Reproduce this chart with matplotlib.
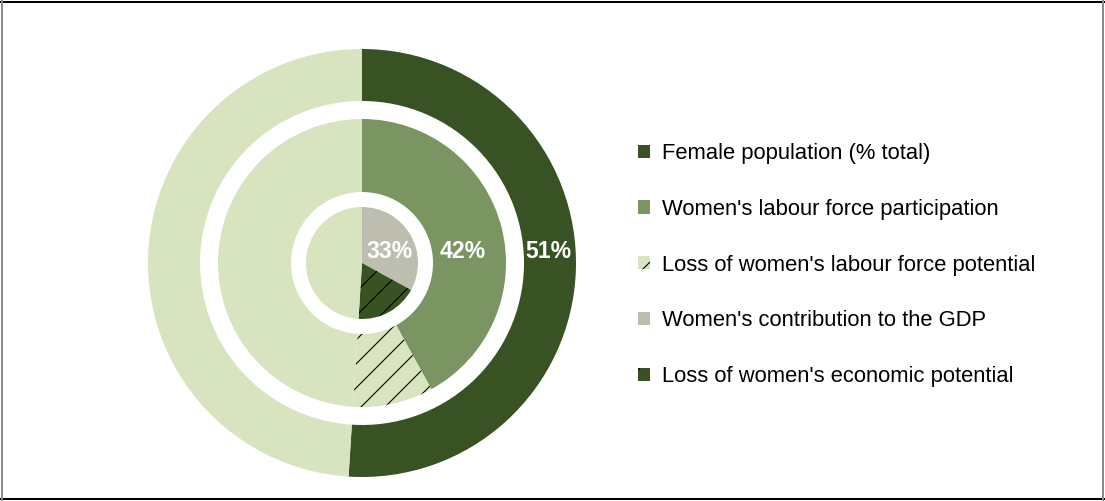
import matplotlib
matplotlib.use('Agg')
import matplotlib.pyplot as plt
from matplotlib.patches import Patch
from matplotlib.lines import Line2D

plt.rcParams['font.family'] = ['Liberation Sans', 'DejaVu Sans']
plt.rcParams['hatch.linewidth'] = 1.1

# data (percent)
female_pop = 51
labour_part = 42
gdp_contrib = 33

outer_vals = [female_pop, 100 - female_pop]
middle_vals = [labour_part, female_pop - labour_part, 100 - female_pop]
inner_vals = [gdp_contrib, female_pop - gdp_contrib, 100 - female_pop]

legend_labels = ["Female population (% total)",
                 "Women's labour force participation",
                 "Loss of women's labour force potential",
                 "Women's contribution to the GDP",
                 "Loss of women's economic potential"]

dark = '#385223'
medium = '#7a9462'
light = '#d8e4bf'
grey = '#bebeb0'

# dpi 72 -> 1 pt = 1 px (keeps the hatch spacing close to the original)
DPI = 72
fig = plt.figure(figsize=(1105 / DPI, 501 / DPI), dpi=DPI)

# frame: black top/bottom, grey sides
fig.add_artist(Line2D([0, 1], [0.997, 0.997], transform=fig.transFigure, color='black', lw=2))
fig.add_artist(Line2D([0, 1], [0.003, 0.003], transform=fig.transFigure, color='black', lw=2))
fig.add_artist(Line2D([0.0015, 0.0015], [0, 1], transform=fig.transFigure, color='#8c8c8c', lw=2))
fig.add_artist(Line2D([0.9985, 0.9985], [0, 1], transform=fig.transFigure, color='#8c8c8c', lw=2))

ax = fig.add_axes([148 / 1105, (501 - 477) / 501, 428 / 1105, 428 / 501])
kw = dict(startangle=90, counterclock=False)

w_out, _ = ax.pie(outer_vals, radius=1.0, colors=[dark, light],
                  wedgeprops=dict(width=(214 - 162) / 214, linewidth=0), **kw)

w_mid, _ = ax.pie(middle_vals, radius=144 / 214, colors=[medium, light, light],
                  wedgeprops=dict(width=(144 - 71) / 214, linewidth=0), **kw)
w_mid[1].set_hatch('/')
w_mid[1].set_edgecolor('black')
w_mid[1].set_linewidth(0)

w_in, _ = ax.pie(inner_vals, radius=56 / 214, colors=[grey, dark, light],
                 wedgeprops=dict(linewidth=0), **kw)
w_in[1].set_hatch('/')
w_in[1].set_edgecolor('black')
w_in[1].set_linewidth(0)

ax.set_xlim(-1, 1)
ax.set_ylim(-1, 1)
ax.set_aspect('equal')
ax.axis('off')

# value labels
for x, txt in [(186, f'{female_pop}%'), (101, f'{labour_part}%'), (28, f'{gdp_contrib}%')]:
    ax.text(x / 214, 11 / 214, txt, color='white', fontsize=23, fontweight='bold',
            ha='center', va='center')

handles = [Patch(facecolor=dark, edgecolor='none'),
           Patch(facecolor=medium, edgecolor='none'),
           Patch(facecolor=light, edgecolor='black', hatch='/', linewidth=0),
           Patch(facecolor=grey, edgecolor='none'),
           Patch(facecolor=dark, edgecolor='black', hatch='/', linewidth=0)]

fig.legend(handles, legend_labels, loc='center left', bbox_to_anchor=(618 / 1105, (501 - 265) / 501),
           frameon=False, fontsize=22, handlelength=0.55, handleheight=0.55,
           handletextpad=0.53, labelspacing=1.58)

fig.savefig('out.png', dpi=DPI)
